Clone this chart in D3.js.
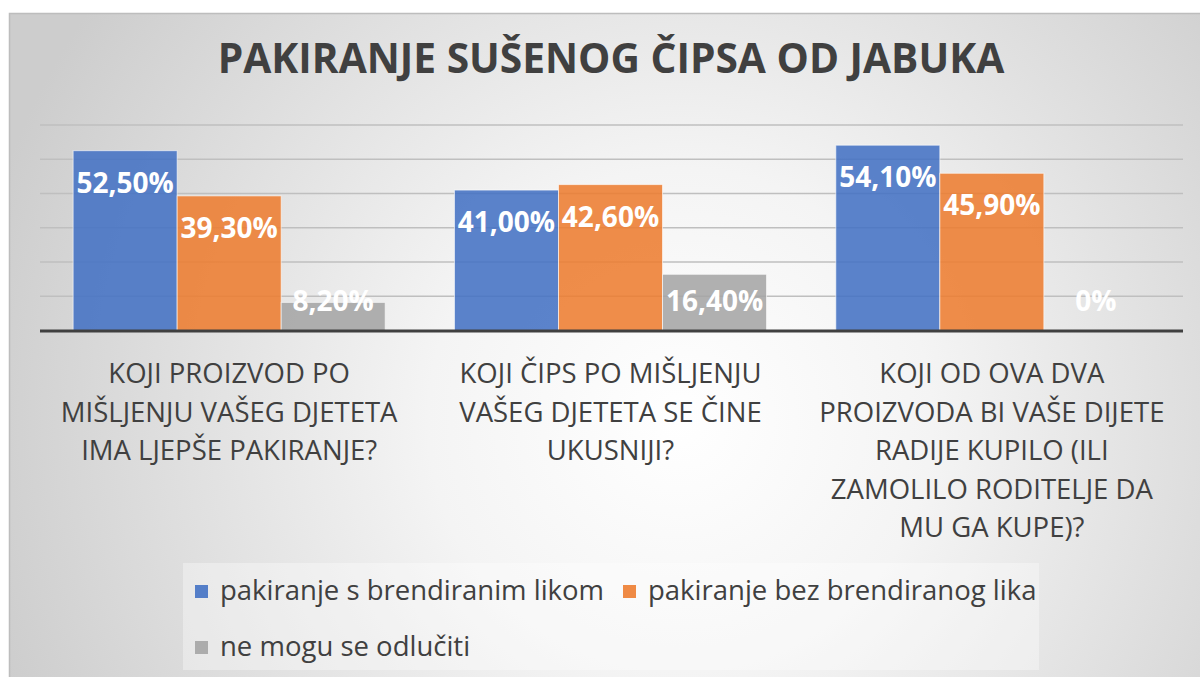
<!DOCTYPE html>
<html>
<head>
<meta charset="utf-8">
<title>Pakiranje</title>
<script src="https://d3js.org/d3.v7.min.js"></script>
<style>
  body { margin: 0; background: #fff; }
  text { font-family: "Open Sans", "DejaVu Sans", sans-serif; }
</style>
</head>
<body>
<div id="container"></div>
<script>
var width = 1200, height = 677;

var title = "PAKIRANJE SUŠENOG ČIPSA OD JABUKA";
var categories = [
  "KOJI PROIZVOD PO MIŠLJENJU VAŠEG DJETETA IMA LJEPŠE PAKIRANJE?",
  "KOJI ČIPS PO MIŠLJENJU VAŠEG DJETETA SE ČINE UKUSNIJI?",
  "KOJI OD OVA DVA PROIZVODA BI VAŠE DIJETE RADIJE KUPILO (ILI ZAMOLILO RODITELJE DA MU GA KUPE)?"
];
var seriesNames = ["pakiranje s brendiranim likom", "pakiranje bez brendiranog lika", "ne mogu se odlučiti"];
var brendiran = [52.5, 41.0, 54.1];
var bezLika = [39.3, 42.6, 45.9];
var neznam = [8.2, 16.4, 0];
var valueLabels = [
  ["52,50%", "41,00%", "54,10%"],
  ["39,30%", "42,60%", "45,90%"],
  ["8,20%", "16,40%", "0%"]
];
var gridTicks = [10, 20, 30, 40, 50, 60];
var colors = ["#4472C4", "#ED7D31", "#A5A5A5"];

var series = [brendiran, bezLika, neznam];

var svg = d3.select("#container").append("svg")
  .attr("width", width).attr("height", height);

var defs = svg.append("defs");
var grad = defs.append("radialGradient").attr("id", "bg")
  .attr("gradientUnits", "userSpaceOnUse")
  .attr("cx", 680).attr("cy", 420).attr("r", 720);
grad.append("stop").attr("offset", "0").attr("stop-color", "#ffffff");
grad.append("stop").attr("offset", "0.35").attr("stop-color", "#f4f4f4");
grad.append("stop").attr("offset", "1").attr("stop-color", "#cdcdcd");

// chart frame
svg.append("rect").attr("x", 9.5).attr("y", 13.5).attr("width", 1200).attr("height", 680)
  .attr("fill", "url(#bg)").attr("stroke", "#bdbdbd").attr("stroke-width", 1.5);

// title
var titleText = svg.append("text")
  .attr("x", 611).attr("y", 73)
  .attr("text-anchor", "middle")
  .attr("font-size", 36).attr("font-weight", "bold")
  .attr("fill", "#404040")
  .text(title);
var tw = titleText.node().getComputedTextLength();
titleText.attr("font-size", 36 * 787 / tw);

var x0 = d3.scaleBand().domain(categories).range([38.5, 1182.5]).padding(0);
var x1 = d3.scaleBand().domain([0, 1, 2]).range([0, x0.bandwidth()]).paddingInner(0).paddingOuter(0.333);
var y = d3.scaleLinear().domain([0, 60]).range([330.5, 125]);

// gridlines
svg.append("g").selectAll("line").data(gridTicks).enter().append("line")
  .attr("x1", 40).attr("x2", 1183)
  .attr("y1", function(d) { return y(d); }).attr("y2", function(d) { return y(d); })
  .attr("stroke", "#bfbfbf").attr("stroke-width", 1.3);

// bars
var groups = svg.append("g").selectAll("g").data(categories).enter().append("g")
  .attr("transform", function(d) { return "translate(" + x0(d) + ",0)"; });

groups.each(function(cat, ci) {
  var g = d3.select(this);
  series.forEach(function(s, si) {
    var v = s[ci];
    if (v > 0) {
      g.append("rect")
        .attr("x", x1(si)).attr("width", x1.bandwidth())
        .attr("y", y(v)).attr("height", y(0) - y(v))
        .attr("fill", colors[si]).attr("fill-opacity", 0.88)
        .attr("stroke", "#ffffff").attr("stroke-opacity", 0.6).attr("stroke-width", 1);
    }
  });
});

// axis baseline
svg.append("line").attr("x1", 40).attr("x2", 1183)
  .attr("y1", y(0) + 0.5).attr("y2", y(0) + 0.5)
  .attr("stroke", "#404040").attr("stroke-width", 3);

// value labels
groups.each(function(cat, ci) {
  var g = d3.select(this);
  series.forEach(function(s, si) {
    var v = s[ci];
    g.append("text")
      .attr("x", x1(si) + x1.bandwidth() / 2)
      .attr("y", Math.min(y(v) + 42, y(0) - 20))
      .attr("text-anchor", "middle")
      .attr("font-size", 28).attr("font-weight", "bold")
      .attr("fill", "#ffffff")
      .text(valueLabels[si][ci]);
  });
});

// category labels, wrapped
function wrap(textSel, str, maxW) {
  var words = str.split(" "), lines = [], line = [];
  var tmp = textSel.append("tspan");
  words.forEach(function(w) {
    line.push(w);
    tmp.text(line.join(" "));
    if (tmp.node().getComputedTextLength() > maxW && line.length > 1) {
      line.pop();
      lines.push(line.join(" "));
      line = [w];
    }
  });
  lines.push(line.join(" "));
  tmp.remove();
  return lines;
}

groups.each(function(cat) {
  var t = d3.select(this).append("text")
    .attr("text-anchor", "middle")
    .attr("font-size", 27.5).attr("fill", "#404040");
  var lines = wrap(t, cat, 362);
  lines.forEach(function(l, i) {
    t.append("tspan").attr("x", x0.bandwidth() / 2).attr("y", 383 + i * 38.6).text(l);
  });
});

// legend
var legend = svg.append("g");
legend.append("rect").attr("x", 183).attr("y", 563).attr("width", 856).attr("height", 107)
  .attr("fill", "#ffffff").attr("fill-opacity", 0.35);
var legendPos = [[195, 585], [623, 585], [195, 641]];
seriesNames.forEach(function(name, i) {
  var item = legend.append("g").attr("transform", "translate(" + legendPos[i][0] + "," + legendPos[i][1] + ")");
  item.append("rect").attr("width", 13).attr("height", 13)
    .attr("fill", colors[i]).attr("fill-opacity", 0.9);
  item.append("text").attr("x", 25).attr("y", 15)
    .attr("font-size", 27.5).attr("fill", "#404040").text(name);
});
</script>
</body>
</html>
